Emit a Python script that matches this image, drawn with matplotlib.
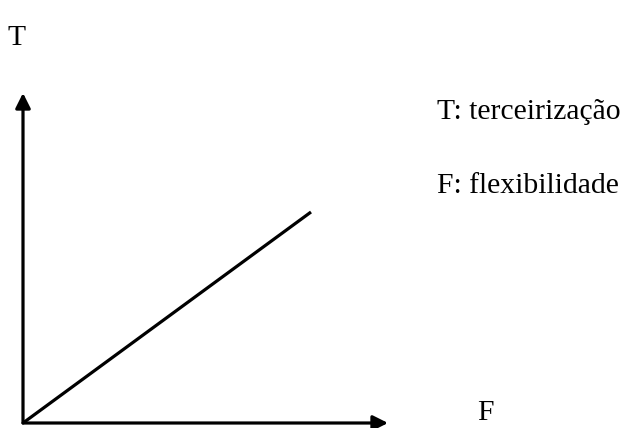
import matplotlib.pyplot as plt

# relation between flexibility (F) and outsourcing (T)
F = [0, 288]
T = [0, 211]

axis_len_x = 365
axis_len_y = 330

fig = plt.figure(figsize=(6.22, 4.28), dpi=100)
ax = fig.add_axes([0, 0, 1, 1])
ax.set_xlim(-23, 599)
ax.set_ylim(-5, 423)
ax.axis('off')

plt.rcParams['font.family'] = ['Liberation Serif', 'DejaVu Serif']

arrow = dict(arrowstyle='-|>,head_length=0.9,head_width=0.45', color='black', lw=2.3,
             shrinkA=0, shrinkB=0)
ax.annotate('', xy=(axis_len_x, 0), xytext=(0, 0), arrowprops=arrow)
ax.annotate('', xy=(0, axis_len_y), xytext=(0, 0), arrowprops=arrow)

ax.plot(F, T, color='black', lw=2.3, solid_capstyle='butt')

fs = 21.3
ax.text(-6, 385, 'T', fontsize=fs, ha='center', va='center')
ax.text(462, 10, 'F', fontsize=fs, ha='center', va='center')
ax.text(414, 311, 'T: terceirização', fontsize=fs, ha='left', va='center')
ax.text(414, 237, 'F: flexibilidade', fontsize=fs, ha='left', va='center')

fig.savefig('out.png', dpi=100)
